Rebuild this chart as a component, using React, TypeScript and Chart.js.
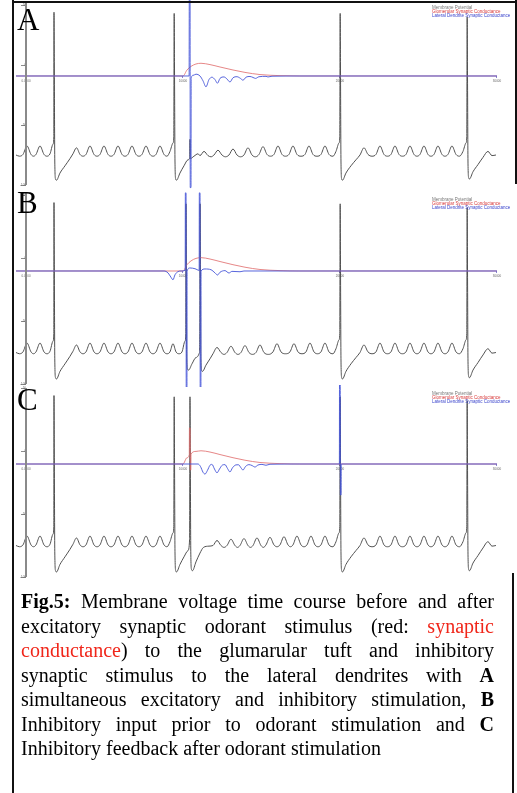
import React, { useEffect, useRef } from "react";
import { Chart, registerables } from "chart.js";

Chart.register(...registerables);
Chart.defaults.font.family = '"Liberation Sans", Arial, sans-serif';

type Pt = [number, number];

// ---------- data (time units as on the x axis, mV / arbitrary conductance) ----------
const seriesNames = [
  "Membrane Potential",
  "Glomerular Synaptic Conductance",
  "Lateral Dendrite Synaptic Conductance",
];
const xTicks = [0, 10000, 20000, 30000];
const yTicks = [50, 0, -50, -100];

// membrane potential: segment before stimulus (shared by the three runs)
const membraneHead: Pt[] = [
  [-637, -75], [-414, -76], [-191, -74.5], [64, -67.5], [318, -74.5], [478, -76], [637, -74.5], [892, -67.5],
  [1146, -74.5], [1337, -76], [1529, -74], [1720, -66], [1771, -60], [1783, 44], [1802, 0], [1834, -80],
  [1879, -95], [1943, -96], [2165, -90], [2484, -84], [2802, -78], [2993, -74], [3216, -69], [3439, -74.5],
  [3630, -76], [3821, -74.5], [4076, -67.5], [4331, -74.5], [4522, -76], [4713, -74.5], [4968, -67.5],
  [5223, -74.5], [5414, -76], [5605, -74.5], [5859, -67.5], [6114, -74.5], [6305, -76], [6496, -74.5],
  [6751, -67.5], [7006, -74.5], [7197, -76], [7388, -74.5], [7643, -67.5], [7898, -74.5], [8089, -76],
  [8280, -74.5], [8534, -67.5], [8789, -74.5], [8980, -76],
];

// A: simultaneous excitatory and inhibitory stimulation
const membraneMidA: Pt[] = [
  [9171, -72], [9362, -65], [9413, -60], [9439, 43], [9458, 0], [9490, -80], [9534, -95], [9585, -96],
  [9808, -90], [10063, -84], [10318, -79], [10432, -77], [10445, -62], [10464, -78], [10700, -76],
  [10955, -74], [11082, -75.5], [11337, -72], [11592, -75.5], [11783, -76.5], [11974, -75], [12228, -71],
  [12483, -75], [12706, -76.5], [12929, -75], [13184, -70], [13439, -75], [13661, -76.5], [13884, -75],
  [14139, -69], [14394, -75], [14617, -76.5], [14840, -74.5], [15095, -68], [15349, -74.5], [15572, -76],
  [15795, -74.5], [16050, -67.5], [16305, -74.5], [16528, -76], [16750, -74.5], [17005, -67.5],
  [17260, -74.5], [17515, -76], [17770, -74.5], [18024, -67.5], [18279, -74.5], [18534, -76],
  [18789, -74.5], [19043, -67.5], [19298, -74.5], [19553, -76],
];

// B: inhibitory input prior to odorant stimulation
const membraneMidB: Pt[] = [
  [9171, -74.5], [9362, -68], [9554, -74.5], [9745, -76], [9936, -74.5], [10127, -66], [10178, -60],
  [10190, 43], [10210, 0], [10241, -80], [10286, -88], [10350, -89], [10573, -84], [10827, -79],
  [11050, -75], [11069, -60], [11088, 43], [11107, 0], [11139, -80], [11184, -89], [11241, -90],
  [11464, -85], [11719, -80], [11910, -76], [12165, -71], [12420, -75], [12611, -76.5], [12802, -75],
  [13056, -70], [13311, -75], [13502, -76.5], [13693, -75], [13948, -69.5], [14203, -75], [14426, -76.5],
  [14649, -75], [14903, -69], [15158, -75], [15445, -76.5], [15731, -74.5], [15986, -68], [16241, -74.5],
  [16528, -76], [16814, -74.5], [17069, -68], [17324, -74.5], [17578, -76], [17833, -74.5], [18088, -67.5],
  [18343, -74.5], [18566, -76], [18789, -74.5], [19043, -67.5], [19298, -74.5], [19553, -76],
];

// C: inhibitory feedback after odorant stimulation
const membraneMidC: Pt[] = [
  [9171, -72], [9362, -65], [9413, -60], [9439, 43], [9458, 0], [9490, -80], [9534, -95], [9585, -96],
  [9808, -90], [10063, -84], [10318, -79], [10420, -70], [10445, 43], [10464, 0], [10496, -80],
  [10541, -94], [10604, -95], [10827, -88], [11082, -81], [11305, -76.5], [11655, -75.5], [11910, -75],
  [12165, -71], [12420, -75], [12611, -76.5], [12802, -75], [13056, -70], [13311, -75], [13470, -76.5],
  [13630, -75], [13884, -69.5], [14139, -75], [14298, -76.5], [14458, -75], [14712, -69], [14967, -75],
  [15126, -76.5], [15286, -74.5], [15540, -68.5], [15795, -74.5], [15986, -76], [16177, -74.5],
  [16432, -68], [16687, -74.5], [16846, -76], [17005, -74.5], [17260, -67.5], [17515, -74.5], [17706, -76],
  [17897, -74.5], [18152, -67.5], [18406, -74.5], [18597, -76], [18789, -74.5], [19043, -67.5],
  [19298, -74.5], [19553, -76],
];

// membrane potential: final segment (shared)
const membraneTail: Pt[] = [
  [19744, -72], [19935, -65], [19986, -60], [20011, 43], [20030, 0], [20062, -80], [20107, -95],
  [20158, -96], [20381, -90], [20699, -84], [21018, -79], [21272, -75], [21527, -69], [21782, -74.5],
  [22037, -76], [22292, -74.5], [22546, -67.5], [22801, -74.5], [23024, -76], [23247, -74.5],
  [23502, -67.5], [23756, -74.5], [23979, -76], [24202, -74.5], [24457, -67.5], [24712, -74.5],
  [24903, -76], [25094, -74.5], [25349, -67.5], [25603, -74.5], [25794, -76], [25986, -74.5],
  [26240, -67.5], [26495, -74.5], [26686, -76], [26877, -74.5], [27132, -67.5], [27387, -74.5],
  [27610, -76], [27833, -72], [28024, -65], [28075, -60], [28100, 40], [28119, 0], [28151, -80],
  [28196, -94], [28246, -95], [28469, -89], [28788, -83], [29106, -77], [29425, -72], [29680, -75.5],
  [29934, -75],
];

// glomerular (excitatory) synaptic conductance
const glomAB: Pt[] = [
  [-637, 0], [10000, 0], [10254, 5], [10509, 8], [10827, 10], [11146, 10.6], [11719, 9.5], [12356, 7.5],
  [13184, 5], [13948, 3], [14903, 1.2], [16177, 0.3], [17451, 0], [30000, 0],
];
const glomC: Pt[] = [
  [-637, 0], [10000, 0], [10254, 5], [10400, 7.3], [10410, 28.6], [10455, 28.6], [10465, -4.8],
  [10500, -4.8], [10510, 7.9], [10827, 10], [11146, 10.5], [11719, 9.5], [12356, 7.5], [13184, 5],
  [13948, 3], [14903, 1.2], [16177, 0.3], [17451, 0], [30000, 0],
];

// lateral dendrite (inhibitory) synaptic conductance
const lateralA: Pt[] = [
  [-637, 0], [10390, 0], [10400, 70], [10450, 70], [10460, -93], [10510, -93], [10520, -2], [10636, 0.5],
  [10827, 1.5], [11082, 0], [11273, -4], [11464, -9], [11655, -3], [11846, -1], [12037, -3], [12197, -6],
  [12356, -2], [12611, -0.8], [12802, -2.5], [12993, -5], [13184, -1.5], [13439, -0.6], [13661, -2],
  [13821, -3.5], [14012, -1], [14266, -0.4], [14458, -1.2], [14617, -2], [14840, -0.6], [15286, -0.3],
  [15413, -0.8], [15668, -0.2], [17451, 0], [30000, 0],
];
const lateralB: Pt[] = [
  [-637, 0], [8789, 0], [9044, -1.5], [9235, -5], [9362, -7], [9490, -3], [9681, -0.5], [9872, 0],
  [10140, 0.5], [10150, 62], [10195, 62], [10205, -100], [10250, -100], [10260, 0], [10445, 2.4],
  [10764, 1.8], [11030, 0.5], [11040, 62], [11085, 62], [11095, -100], [11140, -100], [11150, 0],
  [11401, 1.6], [11783, 1], [12037, -1.5], [12197, -3.2], [12356, -1], [12674, 0.3], [12929, -1.6],
  [13120, -0.3], [13630, -0.6], [13884, 0], [30000, 0],
];
const lateralC: Pt[] = [
  [-637, 0], [10955, 0], [11114, -2], [11273, -6.5], [11401, -8], [11560, -5], [11719, -1],
  [11846, -0.3], [12006, -4], [12165, -7], [12324, -4], [12515, -0.8], [12674, -0.5], [12833, -3.5],
  [12993, -6.3], [13152, -3], [13375, -0.7], [13534, -0.6], [13693, -3], [13821, -4.8], [13980, -2],
  [14203, -0.5], [14394, -1.2], [14585, -2.4], [14776, -0.8], [15031, -0.3], [15286, -1], [15540, -0.2],
  [17451, 0], [19960, 0], [19970, 70], [20015, 70], [20025, -24.6], [20070, -24.6], [20080, 0], [30000, 0],
];

// ---------- layout ----------
const CANVAS_LEFT = 14;
const CANVAS_W = 503;
const X_MIN = -764.3;
const X_MAX = 31273.9;

const seriesColors = ["#505050", "#e06868", "#4453d8"];
const legendColors = ["#777777", "#d83a3a", "#3a44cc"];

const panels = [
  {
    letter: "A", top: 0, height: 190, padTop: 3, padBottom: 5, yMax: 51.67, gMin: -90.83, gMax: 60.83,
    legendY: 8, letterTop: 4,
    membrane: [...membraneHead, ...membraneMidA, ...membraneTail], glom: glomAB, lateral: lateralA,
  },
  {
    letter: "B", top: 190, height: 197, padTop: 3, padBottom: 3, yMax: 51.59, gMin: -89.69, gMax: 61.9,
    legendY: 10, letterTop: 186.5,
    membrane: [...membraneHead, ...membraneMidB, ...membraneTail], glom: glomAB, lateral: lateralB,
  },
  {
    letter: "C", top: 385, height: 195, padTop: 3, padBottom: 3, yMax: 50, gMin: -89.68, gMax: 60.32,
    legendY: 9, letterTop: 384,
    membrane: [...membraneHead, ...membraneMidC, ...membraneTail], glom: glomC, lateral: lateralC,
  },
];

// y axis line (at x = 0 of the x scale) and the small legend text
const panelDecor = {
  id: "panelDecor",
  afterDraw(chart: any, _args: any, opts: any) {
    const ctx = chart.ctx;
    const area = chart.chartArea;
    const px = Math.round(chart.scales.x.getPixelForValue(0));
    ctx.save();
    ctx.globalAlpha = 1;
    ctx.strokeStyle = "#8a8a8a";
    ctx.lineWidth = 2;
    ctx.beginPath();
    ctx.moveTo(px, area.top);
    ctx.lineTo(px, area.bottom);
    ctx.stroke();
    ctx.restore();

    ctx.save();
    ctx.font = '4.5px "Liberation Sans", Arial, sans-serif';
    ctx.textBaseline = "middle";
    ctx.textAlign = "left";
    seriesNames.forEach((name, i) => {
      ctx.fillStyle = legendColors[i];
      ctx.fillText(name, opts.x, opts.y + i * 3.7);
    });
    ctx.restore();
  },
};

const toXY = (pts: Pt[]) => pts.map(([x, y]) => ({ x, y }));

function Panel({ cfg }: { cfg: any }) {
  const ref = useRef<HTMLCanvasElement>(null);
  useEffect(() => {
    const chart = new Chart(ref.current as HTMLCanvasElement, {
      type: "line",
      data: {
        datasets: [
          {
            label: seriesNames[0], data: toXY(cfg.membrane), yAxisID: "y", order: 3,
            borderColor: seriesColors[0], borderWidth: 1, cubicInterpolationMode: "monotone", clip: false,
          },
          {
            label: seriesNames[1], data: toXY(cfg.glom), yAxisID: "y1", order: 2,
            borderColor: seriesColors[1], borderWidth: 0.8, cubicInterpolationMode: "monotone", clip: false,
          },
          {
            label: seriesNames[2], data: toXY(cfg.lateral), yAxisID: "y1", order: 1,
            borderColor: seriesColors[2], borderWidth: 0.9, cubicInterpolationMode: "monotone", clip: false,
          },
        ],
      } as any,
      options: {
        animation: false,
        responsive: false,
        maintainAspectRatio: false,
        devicePixelRatio: 1,
        parsing: false,
        normalized: true,
        events: [],
        layout: { padding: { top: cfg.padTop, bottom: cfg.padBottom, left: 0, right: 0 } },
        elements: { point: { radius: 0 }, line: { tension: 0 } },
        plugins: {
          legend: { display: false },
          tooltip: { enabled: false },
          panelDecor: { x: 432 - CANVAS_LEFT, y: cfg.legendY },
        } as any,
        scales: {
          x: {
            type: "linear",
            min: X_MIN,
            max: X_MAX,
            position: { y1: 0 } as any,
            border: { display: false },
            grid: { display: true, drawOnChartArea: false, drawTicks: true, tickLength: 2, color: "#8a8ad0" },
            ticks: {
              font: { size: 3 },
              color: "#666666",
              padding: 1,
              autoSkip: false,
              maxRotation: 0,
              callback: (v: any) => (Number(v) === 0 ? "0.0000" : String(v)),
            },
            afterBuildTicks: (s: any) => {
              s.ticks = xTicks.map((v) => ({ value: v }));
            },
          },
          y: {
            type: "linear",
            min: -100,
            max: cfg.yMax,
            position: { x: 0 } as any,
            border: { display: false },
            grid: { display: true, drawOnChartArea: false, drawTicks: true, tickLength: 5, color: "#8c8c8c" },
            ticks: { font: { size: 3 }, color: "#666666", padding: 1, callback: (v: any) => String(v) },
            afterBuildTicks: (s: any) => {
              s.ticks = yTicks.map((v) => ({ value: v }));
            },
          },
          y1: { type: "linear", display: false, min: cfg.gMin, max: cfg.gMax },
        },
      } as any,
      plugins: [panelDecor as any],
    });
    return () => chart.destroy();
  }, []);
  return (
    <canvas
      ref={ref}
      width={CANVAS_W}
      height={cfg.height}
      style={{ position: "absolute", left: CANVAS_LEFT, top: cfg.top, width: CANVAS_W, height: cfg.height }}
    />
  );
}

const red = { color: "#f0261a" };
const lineStyle: React.CSSProperties = { textAlign: "justify", textAlignLast: "justify" as any };

export default function App() {
  return (
    <div
      style={{
        position: "absolute", left: 0, top: 0, width: 517, height: 793, background: "#ffffff", overflow: "hidden",
      }}
    >
      {panels.map((p) => (
        <Panel key={p.letter} cfg={p} />
      ))}
      {panels.map((p) => (
        <div
          key={"l" + p.letter}
          style={{
            position: "absolute", left: 17, top: p.letterTop, fontFamily: '"Liberation Serif", "Times New Roman", serif',
            fontSize: 31, lineHeight: "31px", color: "#000",
          }}
        >
          {p.letter}
        </div>
      ))}
      {/* frame */}
      <div style={{ position: "absolute", left: 12, top: 0, width: 2, height: 793, background: "#111" }} />
      <div style={{ position: "absolute", left: 12, top: 1, width: 505, height: 2, background: "#111" }} />
      <div style={{ position: "absolute", left: 515, top: 0, width: 2, height: 184, background: "#111" }} />
      <div style={{ position: "absolute", left: 512, top: 573, width: 2, height: 220, background: "#111" }} />
      {/* caption */}
      <div
        style={{
          position: "absolute", left: 21, top: 589, width: 473, fontFamily: '"Liberation Serif", "Times New Roman", serif',
          fontSize: 20, lineHeight: "24.5px", color: "#000",
        }}
      >
        <div style={lineStyle}>
          <b>Fig.5:</b> Membrane voltage time course before and after
        </div>
        <div style={lineStyle}>
          excitatory synaptic odorant stimulus (red: <span style={red}>synaptic</span>
        </div>
        <div style={lineStyle}>
          <span style={red}>conductance</span>) to the glumarular tuft and inhibitory
        </div>
        <div style={lineStyle}>
          synaptic stimulus to the lateral dendrites with <b>A</b>
        </div>
        <div style={lineStyle}>
          simultaneous excitatory and inhibitory stimulation, <b>B</b>
        </div>
        <div style={lineStyle}>
          Inhibitory input prior to odorant stimulation and <b>C</b>
        </div>
        <div>Inhibitory feedback after odorant stimulation</div>
      </div>
    </div>
  );
}
